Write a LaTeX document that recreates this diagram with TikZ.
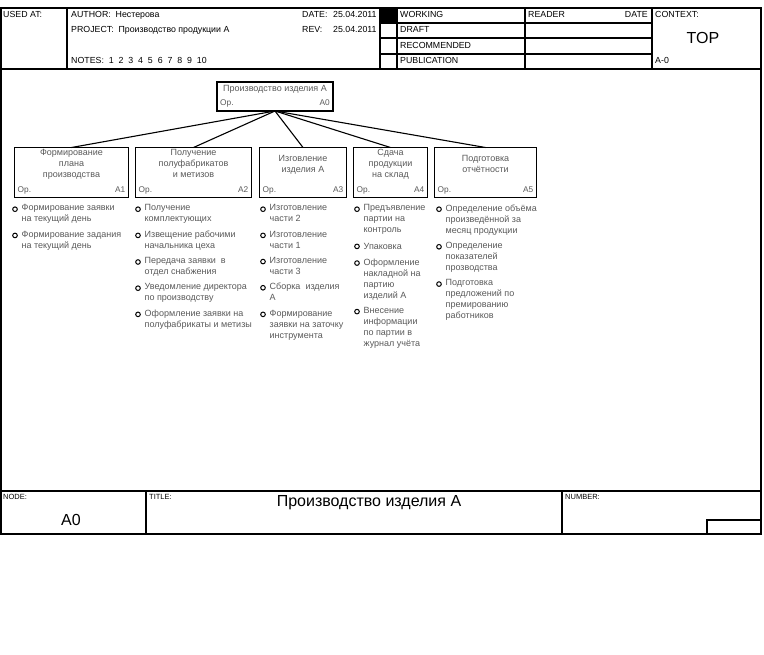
\documentclass[tikz,border=0pt]{standalone}
\usepackage{fontspec}
\setmainfont{Liberation Sans}
\usetikzlibrary{positioning}

\begin{document}
\begin{tikzpicture}[
  x=1pt, y=-1pt,
  frm/.style={line width=1.2pt},
  hdr/.style={anchor=base west, inner sep=0pt, font=\fontsize{8.8}{10}\selectfont},
  ftr/.style={anchor=base west, inner sep=0pt, font=\fontsize{7.5}{9}\selectfont},
  big/.style={anchor=base, inner sep=0pt, font=\fontsize{16}{18}\selectfont},
  act/.style={rectangle, draw, line width=1.2pt, minimum height=50pt, inner sep=0pt, outer sep=0pt},
  acttxt/.style={align=center, inner sep=0pt, text=black!65, font=\fontsize{9}{11}\selectfont,
    execute at begin node=\strut, execute at end node=\strut},
  crn/.style={inner sep=0pt, text=black!65, font=\fontsize{8.3}{10}\selectfont},
  itm/.style={align=left, inner sep=0pt, text=black!65, font=\fontsize{9}{11}\selectfont,
    execute at begin node=\strut, execute at end node=\strut, label={[dot]north west:{}}},
  dot/.style={circle, draw=black, line width=1pt, minimum size=4.6pt, inner sep=0pt,
    anchor=center, xshift=-6.5pt, yshift=-4.7pt},
  edge/.style={line width=1.1pt},
  node distance=5.3pt
]
  \useasboundingbox (0,0) rectangle (764,655);

  % frame
  \draw[frm] (1,8) rectangle (761,534);
  \draw[frm] (1,69) -- (761,69) (1,491) -- (761,491);
  \draw[frm] (67,8) -- (67,69) (380,8) -- (380,69) (397,8) -- (397,69)
    (525,8) -- (525,69) (652,8) -- (652,69);
  \draw[frm] (380,23) -- (652,23) (380,38) -- (652,38) (380,54) -- (652,54);
  \fill (380,8) rectangle (397,23);
  \draw[frm] (146,491) -- (146,534) (562,491) -- (562,534);
  \draw[frm] (707,534) |- (761,520);

  % header
  \node[hdr] (used) at (3,18) {USED AT:};
  \node[hdr] (author) at (71,18) {AUTHOR:\ \ Нестерова};
  \node[hdr] (project) at (71,33) {PROJECT:\ \ Производство продукции А};
  \node[hdr] (notes) at (71,64) {NOTES:\ \ 1\ \ 2\ \ 3\ \ 4\ \ 5\ \ 6\ \ 7\ \ 8\ \ 9\ \ 10};
  \node[hdr] (date) at (302,18) {DATE:};
  \node[hdr] (dateval) at (333,18) {25.04.2011};
  \node[hdr] (rev) at (302,33) {REV:};
  \node[hdr] (revval) at (333,33) {25.04.2011};
  \node[hdr] (working) at (400,18) {WORKING};
  \node[hdr] (draft) at (400,33) {DRAFT};
  \node[hdr] (recom) at (400,49) {RECOMMENDED};
  \node[hdr] (publ) at (400,64) {PUBLICATION};
  \node[hdr] (reader) at (528,18) {READER};
  \node[hdr, anchor=base east] (rdate) at (648,18) {DATE};
  \node[hdr] (context) at (655,18) {CONTEXT:};
  \node[big] (top) at (703,44) {TOP};
  \node[hdr] (ctxnum) at (655,64) {A-0};

  % footer
  \node[ftr] (nodelbl) at (3,499) {NODE:};
  \node[big] (nodenum) at (71,525) {A0};
  \node[ftr] (titlelbl) at (149,499) {TITLE:};
  \node[big] (title) at (369,506) {Производство изделия А};
  \node[ftr] (numlbl) at (565,499) {NUMBER:};

  % activity boxes
  \node[act, minimum width=116pt, minimum height=29pt] (A0) at (275,96.5) {};
  \node[act, minimum width=114pt] (A1) at (71.5,172.5) {};
  \node[act, minimum width=116pt, right=7pt of A1] (A2) {};
  \node[act, minimum width=87pt, right=8pt of A2] (A3) {};
  \node[act, minimum width=74pt, right=7pt of A3] (A4) {};
  \node[act, minimum width=102pt, right=7pt of A4] (A5) {};

  \node[acttxt] (A0t) at ([yshift=7pt]A0.center) {Производство изделия А};
  \node[acttxt] (A1t) at ([yshift=7pt]A1.center) {Формирование\\плана\\производства};
  \node[acttxt] (A2t) at ([yshift=7pt]A2.center) {Получение\\полуфабрикатов\\и метизов};
  \node[acttxt] (A3t) at ([yshift=7pt]A3.center) {Изговление\\изделия А};
  \node[acttxt] (A4t) at ([yshift=7pt]A4.center) {Сдача\\продукции\\на склад};
  \node[acttxt] (A5t) at ([yshift=7pt]A5.center) {Подготовка\\отчётности};

  \node[crn, anchor=base west] (A0o) at ([xshift=3pt,yshift=5pt]A0.south west) {Ор.};
  \node[crn, anchor=base east] (A0n) at ([xshift=-3pt,yshift=5pt]A0.south east) {A0};
  \node[crn, anchor=base west] (A1o) at ([xshift=3pt,yshift=5pt]A1.south west) {Ор.};
  \node[crn, anchor=base east] (A1n) at ([xshift=-3pt,yshift=5pt]A1.south east) {A1};
  \node[crn, anchor=base west] (A2o) at ([xshift=3pt,yshift=5pt]A2.south west) {Ор.};
  \node[crn, anchor=base east] (A2n) at ([xshift=-3pt,yshift=5pt]A2.south east) {A2};
  \node[crn, anchor=base west] (A3o) at ([xshift=3pt,yshift=5pt]A3.south west) {Ор.};
  \node[crn, anchor=base east] (A3n) at ([xshift=-3pt,yshift=5pt]A3.south east) {A3};
  \node[crn, anchor=base west] (A4o) at ([xshift=3pt,yshift=5pt]A4.south west) {Ор.};
  \node[crn, anchor=base east] (A4n) at ([xshift=-3pt,yshift=5pt]A4.south east) {A4};
  \node[crn, anchor=base west] (A5o) at ([xshift=3pt,yshift=5pt]A5.south west) {Ор.};
  \node[crn, anchor=base east] (A5n) at ([xshift=-3pt,yshift=5pt]A5.south east) {A5};

  \draw[edge] (A0.south) -- (A1.north);
  \draw[edge] (A0.south) -- (A2.north);
  \draw[edge] (A0.south) -- (A3.north);
  \draw[edge] (A0.south) -- (A4.north);
  \draw[edge] (A0.south) -- (A5.north);

  % task lists
  \node[itm, below right=7pt and 7pt of A1.south west] (A1a) {Формирование заявки\\на текущий день};
  \node[itm, below=of A1a.south west, anchor=north west] (A1b) {Формирование задания\\на текущий день};

  \node[itm, below right=7pt and 9pt of A2.south west] (A2a) {Получение\\комплектующих};
  \node[itm, below=of A2a.south west, anchor=north west] (A2b) {Извещение рабочими\\начальника цеха};
  \node[itm, below=of A2b.south west, anchor=north west] (A2c) {Передача заявки\ \ в\\отдел снабжения};
  \node[itm, below=of A2c.south west, anchor=north west] (A2d) {Уведомление директора\\по производству};
  \node[itm, below=of A2d.south west, anchor=north west] (A2e) {Оформление заявки на\\полуфабрикаты и метизы};

  \node[itm, below right=7pt and 10pt of A3.south west] (A3a) {Изготовление\\части 2};
  \node[itm, below=of A3a.south west, anchor=north west] (A3b) {Изготовление\\части 1};
  \node[itm, below=of A3b.south west, anchor=north west] (A3c) {Изготовление\\части 3};
  \node[itm, below=of A3c.south west, anchor=north west] (A3d) {Сборка\ \ изделия\\А};
  \node[itm, below=of A3d.south west, anchor=north west] (A3e) {Формирование\\заявки на заточку\\инструмента};

  \node[itm, below right=7pt and 10pt of A4.south west] (A4a) {Предъявление\\партии на\\контроль};
  \node[itm, below=of A4a.south west, anchor=north west] (A4b) {Упаковка};
  \node[itm, below=of A4b.south west, anchor=north west] (A4c) {Оформление\\накладной на\\партию\\изделий А};
  \node[itm, below=of A4c.south west, anchor=north west] (A4d) {Внесение\\информации\\по партии в\\журнал учёта};

  \node[itm, below right=7pt and 11pt of A5.south west] (A5a) {Определение объёма\\произведённой за\\месяц продукции};
  \node[itm, below=of A5a.south west, anchor=north west] (A5b) {Определение\\показателей\\прозводства};
  \node[itm, below=of A5b.south west, anchor=north west] (A5c) {Подготовка\\предложений по\\премированию\\работников};
\end{tikzpicture}
\end{document}
